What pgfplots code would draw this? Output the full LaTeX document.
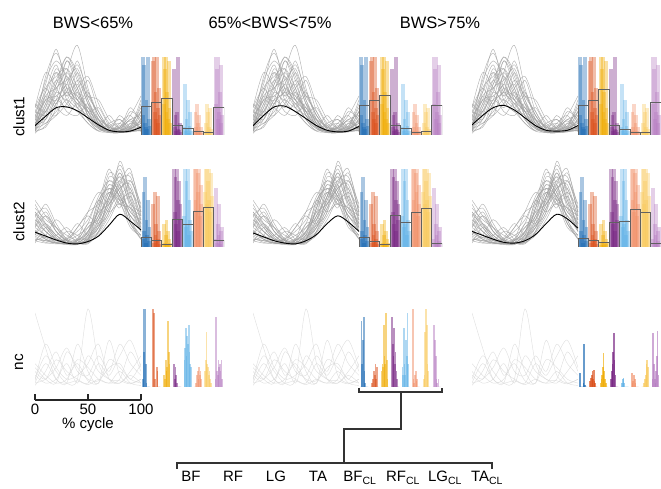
\documentclass[border=0pt]{standalone}
\usepackage{fontspec}
\setmainfont{Liberation Sans}
\setsansfont{Liberation Sans}
\usepackage{pgfplots}
\usepackage{pgfplotstable}
\pgfplotsset{compat=1.18}

\definecolor{cBF}{HTML}{1565B0}
\definecolor{cRF}{HTML}{D94A14}
\definecolor{cLG}{HTML}{EFAA00}
\definecolor{cTA}{HTML}{74207F}
\definecolor{cBFc}{HTML}{5DB0E6}
\definecolor{cRFc}{HTML}{F08E66}
\definecolor{cLGc}{HTML}{F8C85A}
\definecolor{cTAc}{HTML}{B57BC0}
\definecolor{cgrey}{HTML}{A0A0A0}
\definecolor{cpale}{HTML}{D8D8D8}

% single-subject curves, clust1
\pgfplotstableread{
x   c1   c2   c3   c4   c5   c6   c7   c8   c9   c10  c11  c12  c13  c14  c15  c16  c17  c18  c19  c20  c21  c22  c23  c24  c25  c26  c27  c28  c29  c30
0   0.10 0.20 0.05 0.30 0.08 0.15 0.25 0.05 0.12 0.35 0.06 0.18 0.10 0.40 0.02 0.22 0.08 0.28 0.04 0.15 0.15 0.05 0.30 0.10 0.20 0.08 0.25 0.12 0.35 0.06
10  0.35 0.50 0.25 0.65 0.15 0.40 0.20 0.55 0.30 0.80 0.10 0.45 0.60 0.30 0.20 0.70 0.45 0.55 0.12 0.35 0.30 0.40 0.25 0.75 0.15 0.50 0.45 0.20 0.60 0.30
20  0.80 0.45 0.60 1.10 0.30 0.70 0.45 0.90 0.25 0.60 0.35 0.35 0.75 0.55 0.50 0.95 0.50 0.80 0.40 0.65 0.55 0.70 0.40 1.05 0.25 0.60 0.85 0.45 0.40 0.65
30  0.55 0.95 0.70 0.60 0.45 1.00 0.35 0.50 0.60 0.40 0.80 0.25 0.85 0.45 0.30 0.75 0.65 0.45 0.55 0.85 0.95 0.50 0.65 0.70 0.40 0.80 0.60 0.55 0.75 1.00
40  0.40 0.60 0.85 0.35 0.35 0.75 0.55 0.65 0.45 0.30 1.15 0.40 0.50 0.70 0.25 0.45 0.90 0.30 0.45 0.60 0.70 0.80 0.40 0.35 0.60 0.55 0.50 0.95 0.45 0.80
50  0.20 0.30 0.45 0.25 0.50 0.40 0.30 0.25 0.70 0.15 0.60 0.20 0.35 0.50 0.40 0.20 0.55 0.35 0.30 0.25 0.30 0.45 0.55 0.15 0.75 0.25 0.35 0.50 0.30 0.40
60  0.08 0.10 0.15 0.12 0.25 0.20 0.35 0.08 0.30 0.06 0.20 0.10 0.15 0.45 0.15 0.05 0.25 0.18 0.12 0.10 0.10 0.20 0.25 0.05 0.40 0.15 0.12 0.30 0.20 0.10
70  0.05 0.04 0.06 0.10 0.08 0.05 0.12 0.03 0.10 0.15 0.05 0.25 0.06 0.20 0.05 0.04 0.08 0.06 0.04 0.05 0.05 0.06 0.10 0.10 0.15 0.04 0.06 0.08 0.12 0.03
80  0.10 0.03 0.08 0.05 0.04 0.25 0.06 0.05 0.08 0.20 0.03 0.10 0.04 0.08 0.15 0.06 0.05 0.10 0.03 0.12 0.08 0.04 0.06 0.15 0.05 0.10 0.03 0.05 0.20 0.05
90  0.06 0.15 0.05 0.20 0.06 0.10 0.08 0.30 0.05 0.08 0.04 0.35 0.10 0.05 0.25 0.12 0.07 0.18 0.06 0.08 0.20 0.05 0.10 0.06 0.04 0.25 0.08 0.15 0.10 0.08
100 0.12 0.30 0.10 0.08 0.05 0.15 0.40 0.20 0.06 0.25 0.08 0.15 0.45 0.10 0.05 0.35 0.20 0.06 0.30 0.18 0.25 0.12 0.08 0.20 0.06 0.50 0.15 0.10 0.30 0.05
}\cA

% clust2
\pgfplotstableread{
x   c1   c2   c3   c4   c5   c6   c7   c8   c9   c10  c11  c12  c13  c14  c15  c16  c17  c18  c19  c20  c21  c22  c23  c24  c25  c26  c27  c28  c29  c30
0   0.20 0.35 0.15 0.45 0.10 0.25 0.50 0.12 0.30 0.18 0.40 0.08 0.22 0.60 0.14 0.30 0.05 0.42 0.16 0.26 0.30 0.15 0.45 0.10 0.25 0.55 0.08 0.35 0.20 0.40
10  0.10 0.25 0.40 0.30 0.08 0.15 0.35 0.06 0.55 0.12 0.20 0.15 0.10 0.40 0.08 0.20 0.25 0.28 0.10 0.45 0.15 0.30 0.25 0.08 0.40 0.30 0.05 0.20 0.12 0.50
20  0.05 0.10 0.20 0.15 0.05 0.06 0.25 0.04 0.30 0.08 0.10 0.35 0.05 0.20 0.10 0.08 0.15 0.12 0.06 0.20 0.08 0.15 0.10 0.05 0.25 0.12 0.06 0.10 0.15 0.25
30  0.04 0.06 0.08 0.05 0.10 0.03 0.15 0.05 0.10 0.20 0.04 0.20 0.06 0.08 0.06 0.12 0.05 0.05 0.04 0.08 0.05 0.06 0.08 0.04 0.10 0.05 0.10 0.05 0.25 0.08
40  0.08 0.05 0.04 0.06 0.20 0.05 0.08 0.10 0.05 0.15 0.03 0.06 0.25 0.05 0.04 0.30 0.04 0.08 0.05 0.10 0.10 0.04 0.15 0.06 0.05 0.08 0.25 0.04 0.10 0.05
50  0.20 0.15 0.10 0.08 0.35 0.25 0.06 0.45 0.04 0.10 0.12 0.08 0.40 0.05 0.20 0.15 0.10 0.30 0.08 0.18 0.30 0.12 0.25 0.15 0.08 0.20 0.45 0.10 0.15 0.06
60  0.45 0.30 0.50 0.25 0.60 0.40 0.15 0.70 0.20 0.35 0.28 0.50 0.30 0.18 0.55 0.25 0.40 0.35 0.20 0.60 0.65 0.35 0.45 0.50 0.30 0.40 0.55 0.25 0.60 0.20
70  0.80 0.55 0.70 0.65 0.45 0.90 0.35 0.55 0.50 0.75 0.45 0.85 0.60 0.40 1.00 0.55 0.65 0.70 0.45 0.75 0.85 0.60 0.55 0.95 0.70 0.65 0.80 0.50 0.75 0.65
80  0.65 0.95 0.50 1.05 0.55 0.75 0.60 0.80 0.70 0.60 1.10 0.70 0.85 0.65 0.60 0.75 0.90 0.55 0.80 0.65 0.70 0.95 0.75 0.80 0.60 1.00 0.65 0.85 0.55 0.90
90  0.40 0.60 0.85 0.70 0.30 0.45 0.50 0.35 0.95 0.40 0.65 0.30 0.55 0.75 0.25 0.85 0.50 0.65 1.00 0.40 0.45 0.55 0.80 0.35 0.70 0.60 0.30 0.90 0.50 0.75
100 0.25 0.30 0.45 0.20 0.15 0.35 0.40 0.10 0.50 0.20 0.25 0.12 0.45 0.30 0.15 0.55 0.20 0.35 0.40 0.28 0.30 0.20 0.35 0.15 0.50 0.25 0.10 0.45 0.30 0.40
}\cB

% nc
\pgfplotstableread{
x   c1   c2   c3   c4   c5   c6   c7   c8   c9   c10
0   0.95 0.10 0.05 0.30 0.02 0.15 0.05 0.20 0.08 0.25
10  0.50 0.40 0.10 0.15 0.20 0.05 0.30 0.10 0.55 0.10
20  0.10 0.20 0.25 0.05 0.45 0.10 0.10 0.35 0.25 0.05
30  0.05 0.05 0.50 0.10 0.15 0.30 0.05 0.20 0.10 0.45
40  0.08 0.10 0.20 0.35 0.30 0.05 0.55 0.10 0.15 0.25
50  0.03 1.00 0.15 0.25 0.08 0.40 0.20 0.05 0.30 0.10
60  0.10 0.30 0.40 0.10 0.05 0.20 0.05 0.30 0.55 0.08
70  0.05 0.10 0.20 0.05 0.35 0.10 0.60 0.15 0.10 0.25
80  0.20 0.08 0.55 0.10 0.25 0.05 0.15 0.40 0.05 0.30
90  0.05 0.04 0.30 0.45 0.10 0.20 0.05 0.60 0.15 0.10
100 0.02 0.10 0.15 0.20 0.05 0.40 0.10 0.25 0.05 0.30
}\cC

% cluster means, one column per BWS group
\pgfplotstableread{
x   a1   a2   a3   b1   b2   b3
0   0.12 0.12 0.13 0.19 0.18 0.20
10  0.24 0.25 0.25 0.14 0.13 0.15
20  0.35 0.36 0.35 0.09 0.08 0.10
30  0.36 0.37 0.38 0.05 0.05 0.06
40  0.31 0.30 0.32 0.04 0.04 0.05
50  0.22 0.21 0.22 0.07 0.08 0.08
60  0.13 0.12 0.12 0.14 0.16 0.16
70  0.06 0.06 0.06 0.28 0.30 0.30
80  0.04 0.04 0.05 0.42 0.40 0.42
90  0.05 0.05 0.06 0.33 0.32 0.36
100 0.10 0.11 0.12 0.22 0.20 0.24
}\means

% mean weights per muscle (boxes)
\pgfplotstableread{
x     a1   a2   a3   b1   b2   b3
104.9 0.37 0.38 0.38 0.13 0.12 0.11
114.7 0.42 0.44 0.44 0.09 0.07 0.08
124.5 0.47 0.51 0.59 0.04 0.03 0.06
134.3 0.12 0.13 0.12 0.35 0.41 0.32
144.1 0.09 0.09 0.07 0.29 0.31 0.33
153.9 0.05 0.04 0.03 0.46 0.45 0.48
163.7 0.04 0.05 0.03 0.51 0.50 0.44
173.5 0.36 0.38 0.42 0.08 0.05 0.05
}\boxes

% subject weights: o = offset inside the muscle slot
\pgfplotstableread{
o    bf   rf   lg   ta   bfc  rfc  lgc  tac
1.80 1.00 0.95 1.00 0.85 0.10 0.05 0.03 1.00
2.49 0.25 1.00 0.40 0.10 0.65 0.30 0.15 0.40
3.18 0.90 0.30 0.85 0.25 0.05 0.10 0.40 0.85
3.87 0.15 0.55 1.00 0.05 0.20 0.40 0.05 0.20
4.56 0.10 0.20 0.30 0.30 0.08 0.03 0.30 1.00
5.24 0.45 1.00 0.55 0.08 0.45 0.15 0.10 0.30
5.93 0.08 0.35 0.20 1.00 0.03 0.25 0.02 0.55
6.62 1.00 0.15 0.95 0.06 0.12 0.05 0.35 0.15
7.31 0.20 0.60 0.35 0.15 0.30 0.10 0.08 0.90
8.00 0.12 0.25 0.15 0.04 0.05 0.02 0.04 0.25
}\bA

\pgfplotstableread{
o    bf   rf   lg   ta   bfc  rfc  lgc  tac
1.80 0.10 0.55 0.03 1.00 0.40 1.00 0.70 0.10
2.49 0.70 0.05 0.30 0.45 1.00 0.60 1.00 0.75
3.18 0.20 0.70 0.05 0.90 0.25 1.00 0.55 0.05
3.87 0.90 0.15 0.15 0.30 0.85 0.45 1.00 0.30
4.56 0.05 0.30 0.35 1.00 0.30 0.95 0.85 0.15
5.24 0.35 0.08 0.02 0.60 1.00 0.70 0.60 0.55
5.93 0.15 0.65 0.20 0.20 0.15 1.00 1.00 0.04
6.62 0.60 0.10 0.04 0.85 0.60 0.40 0.45 0.20
7.31 0.08 0.20 0.10 0.35 0.35 0.80 0.95 0.08
8.00 0.25 0.04 0.05 0.55 0.20 0.55 0.65 0.25
}\bB

\pgfplotstableread{
o    bf   rf   lg   ta   bfc  rfc  lgc  tac
1.80 0.10 1.00 0    0.30 0.35 0    0.20 0.10
2.49 1.00 0.95 0.15 0.10 0.50 0    0.35 0.90
3.18 0.45 0.10 0.10 0.25 0.75 0.05 0.70 0.20
3.87 1.00 0    0.35 0.15 0.40 0.15 0.30 0.15
4.56 0.30 0    0.20 0.05 0.65 0.20 0.25 0.35
5.24 0.05 0.25 0.25 0    0.55 0.10 0.15 0.25
5.93 0    0.20 0.85 0    0.80 0.25 0.20 0.30
6.62 0    0    0.45 0    0.45 0.15 0.10 0.20
7.31 0    0    0.30 0    0.30 0.20 0.05 0.35
8.00 0    0    0    0    0.25 0.10 0    0.10
}\bC

\pgfplotstableread{
o    bf   rf   lg   ta   bfc  rfc  lgc  tac
1.80 0    0    0.20 0.90 0.25 1.00 0    0
2.49 0.85 0.05 0.30 0.55 0.15 0.10 0.10 0.80
3.18 0.30 0.10 0.25 0.40 0.75 0.05 0.15 0.60
3.87 0.60 0    0.80 0.75 0.30 0.15 0.70 0.40
4.56 0.90 0.20 0.40 0.30 0.15 0.20 1.00 0.10
5.24 0.20 0.15 0.30 0.45 0.60 0.08 0.80 0.05
5.93 0.05 0.30 0.95 0.20 0.40 0.10 0.30 0
6.62 0    0.10 0.35 0.10 0.95 0    0.20 0.10
7.31 0    0.25 0.10 0    0.30 0    0    0
8.00 0    0    0    0    0    0    0    0
}\bD

\pgfplotstableread{
o    bf   rf   lg   ta   bfc  rfc  lgc  tac
1.80 0.18 0.08 0.05 0.10 0    0.18 0    0.10
2.49 0    0.12 0.10 0.20 0.05 0.05 0    0.69
3.18 0    0.15 0.15 0.30 0.10 0.08 0    0.30
3.87 0    0.20 0.25 0.45 0.12 0.15 0.05 0.10
4.56 0    0.10 0.44 0.69 0.05 0.10 0.10 0.05
5.24 0.05 0.22 0.20 0.35 0    0.05 0.15 0.20
5.93 0.55 0.08 0.10 0.15 0    0    0.30 0.40
6.62 0.03 0.05 0.05 0    0    0    0.35 0.72
7.31 0    0    0    0    0    0    0.25 0.15
8.00 0    0    0    0    0    0    0    0
}\bE

\pgfplotsset{
  panel/.style={scale only axis, width=189pt, height=93.6pt, anchor=south west,
    xmin=0, xmax=178.4, ymin=0, ymax=1.2, hide axis},
  grey curve/.style={smooth, no marks, draw=#1, draw opacity=0.8, line width=0.45pt},
  mean curve/.style={smooth, no marks, black, line width=0.9pt},
  thin bar/.style={ybar, bar shift=0pt, draw=none, fill=#1},
  mean box/.style={ybar, bar width=9.8, bar shift=0pt, draw=black!62, line width=0.7pt, fill=none},
}

\newcommand\curves[3]{%
  \pgfplotsinvokeforeach{1,...,#2}{\addplot[grey curve=#3] table[x=x, y=c##1] {#1};}%
}
% one plot per subject, so that the transparent bars build up
% #1 table, #2 opacity, #3 bar width (axis units)
\newcommand\bargroups[3]{%
  \pgfplotsinvokeforeach{0,...,9}{%
    \addplot[thin bar=cBF,  bar width=#3, fill opacity=#2, restrict expr to domain={\coordindex}{##1:##1}] table[x expr=\thisrow{o}+100,   y=bf]  {#1};
    \addplot[thin bar=cRF,  bar width=#3, fill opacity=#2, restrict expr to domain={\coordindex}{##1:##1}] table[x expr=\thisrow{o}+109.8, y=rf]  {#1};
    \addplot[thin bar=cLG,  bar width=#3, fill opacity=#2, restrict expr to domain={\coordindex}{##1:##1}] table[x expr=\thisrow{o}+119.6, y=lg]  {#1};
    \addplot[thin bar=cTA,  bar width=#3, fill opacity=#2, restrict expr to domain={\coordindex}{##1:##1}] table[x expr=\thisrow{o}+129.4, y=ta]  {#1};
    \addplot[thin bar=cBFc, bar width=#3, fill opacity=#2, restrict expr to domain={\coordindex}{##1:##1}] table[x expr=\thisrow{o}+139.2, y=bfc] {#1};
    \addplot[thin bar=cRFc, bar width=#3, fill opacity=#2, restrict expr to domain={\coordindex}{##1:##1}] table[x expr=\thisrow{o}+149.0, y=rfc] {#1};
    \addplot[thin bar=cLGc, bar width=#3, fill opacity=#2, restrict expr to domain={\coordindex}{##1:##1}] table[x expr=\thisrow{o}+158.8, y=lgc] {#1};
    \addplot[thin bar=cTAc, bar width=#3, fill opacity=#2, restrict expr to domain={\coordindex}{##1:##1}] table[x expr=\thisrow{o}+168.6, y=tac] {#1};
  }%
}

\begin{document}
\begin{tikzpicture}[x=1pt, y=1pt]

% ---- clust1 ----
\begin{axis}[panel, at={(35pt,354pt)}]
  \curves{\cA}{30}{cgrey}
  \bargroups{\bA}{0.36}{3.6}
  \addplot[mean box] table[x=x, y=a1] {\boxes};
  \addplot[mean curve] table[x=x, y=a1] {\means};
\end{axis}
\begin{axis}[panel, at={(253pt,354pt)}]
  \curves{\cA}{30}{cgrey}
  \bargroups{\bA}{0.36}{3.6}
  \addplot[mean box] table[x=x, y=a2] {\boxes};
  \addplot[mean curve] table[x=x, y=a2] {\means};
\end{axis}
\begin{axis}[panel, at={(472pt,354pt)}]
  \curves{\cA}{30}{cgrey}
  \bargroups{\bA}{0.36}{3.6}
  \addplot[mean box] table[x=x, y=a3] {\boxes};
  \addplot[mean curve] table[x=x, y=a3] {\means};
\end{axis}

% ---- clust2 ----
\begin{axis}[panel, at={(35pt,242pt)}]
  \curves{\cB}{30}{cgrey}
  \bargroups{\bB}{0.36}{3.6}
  \addplot[mean box] table[x=x, y=b1] {\boxes};
  \addplot[mean curve] table[x=x, y=b1] {\means};
\end{axis}
\begin{axis}[panel, at={(253pt,242pt)}]
  \curves{\cB}{30}{cgrey}
  \bargroups{\bB}{0.36}{3.6}
  \addplot[mean box] table[x=x, y=b2] {\boxes};
  \addplot[mean curve] table[x=x, y=b2] {\means};
\end{axis}
\begin{axis}[panel, at={(472pt,242pt)}]
  \curves{\cB}{30}{cgrey}
  \bargroups{\bB}{0.36}{3.6}
  \addplot[mean box] table[x=x, y=b3] {\boxes};
  \addplot[mean curve] table[x=x, y=b3] {\means};
\end{axis}

% ---- nc ----
\begin{axis}[panel, at={(35pt,102pt)}]
  \curves{\cC}{10}{cpale}
  \bargroups{\bC}{0.5}{1.6}
\end{axis}
\begin{axis}[panel, at={(253pt,102pt)}]
  \curves{\cC}{10}{cpale}
  \bargroups{\bD}{0.5}{1.6}
\end{axis}
\begin{axis}[panel, at={(472pt,102pt)}]
  \curves{\cC}{8}{cpale}
  \bargroups{\bE}{0.65}{1.6}
\end{axis}

% ---- % cycle scale ----
\begin{axis}[at={(35pt,89pt)}, anchor=south west, scale only axis, width=106pt, height=5pt,
  xmin=0, xmax=100, ymin=0, ymax=1,
  axis x line*=bottom, axis y line=none,
  xtick={0,50,100}, tick align=inside, major tick length=6pt,
  axis line style={line width=1.1pt, black!85},
  tick style={line width=1.1pt, black!85},
  /pgf/number format/assume math mode=true,
  xticklabel style={font=\fontsize{15}{18}\selectfont},
  xlabel={\% cycle}, xlabel style={font=\fontsize{15}{18}\selectfont, yshift=3pt}]
  \addplot[draw=none] coordinates {(0,0) (100,0)};
\end{axis}

% titles and row names
\node[font=\fontsize{16.5}{20}\selectfont] at (93,466) {BWS<65\%};
\node[font=\fontsize{16.5}{20}\selectfont] at (270,466) {65\%<BWS<75\%};
\node[font=\fontsize{16.5}{20}\selectfont] at (440,466) {BWS>75\%};
\node[rotate=90, font=\fontsize{15.3}{18}\selectfont] at (19,372) {clust1};
\node[rotate=90, font=\fontsize{15.3}{18}\selectfont] at (19,267) {clust2};
\node[rotate=90, font=\fontsize{15.3}{18}\selectfont] at (19,127) {nc};

% muscle legend bracket
\draw[line width=1.1pt, black!80] (359,101) -- (359,97) -- (442,97) -- (442,101);
\draw[line width=1.1pt, black!80] (401,97) -- (401,60) -- (344,60) -- (344,26);
\draw[line width=1.1pt, black!80] (177,20) -- (177,26) -- (492,26) -- (492,20);
\begin{scope}[every node/.style={anchor=base, font=\fontsize{15}{18}\selectfont}]
  \node at (191,7) {BF};
  \node at (233,7) {RF};
  \node at (276,7) {LG};
  \node at (318,7) {TA};
  \node at (360,7) {BF\textsubscript{CL}};
  \node at (403,7) {RF\textsubscript{CL}};
  \node at (445,7) {LG\textsubscript{CL}};
  \node at (487,7) {TA\textsubscript{CL}};
\end{scope}

\pgfresetboundingbox
\useasboundingbox (0,0) rectangle (661,489);
\end{tikzpicture}
\end{document}
